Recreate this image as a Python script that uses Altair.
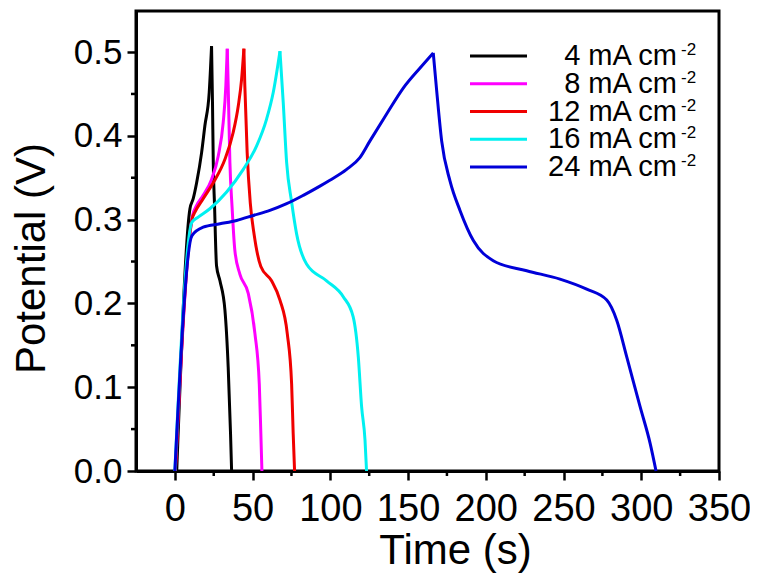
import altair as alt
import pandas as pd

FONT = "Liberation Sans"

series_names = ["4 mA", "8 mA", "12 mA", "16 mA", "24 mA"]
legend_labels = ["4 mA cm", "8 mA cm", "12 mA cm", "16 mA cm", "24 mA cm"]
legend_sup = ["-2", "-2", "-2", "-2", "-2"]
colors = ["#000000", "#FF00FF", "#F00000", "#00F0F0", "#0000D8"]

black_t = [1.2, 9.7, 11.8, 14.0, 17.2, 19.3, 22.1, 23.6, 24.2, 24.7, 25.5, 26.8, 29.0, 32.2, 34.3, 35.8, 36.5]
black_v = [0.0, 0.313, 0.325, 0.344, 0.380, 0.412, 0.452, 0.507, 0.44, 0.368, 0.318, 0.245, 0.227, 0.192, 0.124, 0.045, 0.0]

magenta_t = [0.3, 11.4, 14.0, 18.2, 23.6, 27.9, 31.1, 32.8, 33.7, 34.3, 35.4, 36.8, 38.6, 41.8, 47.2, 51.5, 54.3, 55.3, 56.0]
magenta_v = [0.0, 0.305, 0.317, 0.329, 0.348, 0.376, 0.416, 0.46, 0.504, 0.46, 0.368, 0.315, 0.263, 0.235, 0.212, 0.164, 0.104, 0.045, 0.0]

red_t = [0.3, 11.4, 12.9, 18.2, 24.7, 32.2, 37.5, 40.8, 42.9, 44.4, 45.0, 46.5, 48.5, 51.0, 55.3, 62.2, 67.6, 72.3, 75.1, 76.1, 77.0]
red_v = [0.0, 0.303, 0.309, 0.325, 0.344, 0.372, 0.404, 0.436, 0.467, 0.504, 0.46, 0.38, 0.32, 0.282, 0.244, 0.227, 0.204, 0.164, 0.104, 0.045, 0.0]

cyan_t = [0.0, 11.0, 15.0, 22.5, 33.3, 44.0, 52.6, 59.0, 63.3, 67.6, 69.7, 71.9, 75.1, 78.3, 84.7, 97.6, 108.3, 114.7, 118.0, 120.1, 122.3, 123.3]
cyan_v = [0.0, 0.297, 0.303, 0.313, 0.333, 0.36, 0.388, 0.42, 0.452, 0.501, 0.44, 0.368, 0.321, 0.283, 0.247, 0.227, 0.208, 0.184, 0.136, 0.077, 0.037, 0.0]

blue_t = [0.0, 11.0, 18.2, 29.0, 39.7, 50.4, 61.1, 71.9, 82.6, 93.3, 99.7, 110.5, 119.0, 125.5, 136.2, 146.9, 157.7, 166.2,
          168.4, 171.6, 177.0, 183.4, 192.0, 204.8, 226.3, 247.7, 264.9, 277.8, 284.2, 290.7, 299.2, 305.7, 309.5]
blue_v = [0.0, 0.281, 0.291, 0.295, 0.299, 0.305, 0.311, 0.319, 0.329, 0.340, 0.347, 0.360, 0.374, 0.394, 0.426, 0.457, 0.481, 0.499,
          0.454, 0.394, 0.346, 0.311, 0.275, 0.251, 0.239, 0.229, 0.217, 0.204, 0.180, 0.136, 0.077, 0.033, 0.0]

x_major = [0, 50, 100, 150, 200, 250, 300, 350]
x_minor = [25, 75, 125, 175, 225, 275, 325]
y_major = [0.0, 0.1, 0.2, 0.3, 0.4, 0.5]
y_minor = [0.05, 0.15, 0.25, 0.35, 0.45]

W, H = 583, 460

# split each curve into its charge (rising) and discharge (falling) branch at the peak
rows = []
for name, ts, vs in zip(series_names,
                        [black_t, magenta_t, red_t, cyan_t, blue_t],
                        [black_v, magenta_v, red_v, cyan_v, blue_v]):
    peak = vs.index(max(vs))
    for i, (t, v) in enumerate(zip(ts, vs)):
        if i <= peak:
            rows.append({"series": name, "seg": name + " charge", "t": t, "v": v, "order": i})
        if i >= peak:
            rows.append({"series": name, "seg": name + " discharge", "t": t, "v": v, "order": i})
df = pd.DataFrame(rows)

color_scale = alt.Scale(domain=series_names, range=colors)
x_scale = alt.Scale(domain=[-25, 350], nice=False, zero=False)
y_scale = alt.Scale(domain=[0, 0.549], nice=False, zero=False)

x_axis = alt.Axis(
    values=x_major, title="Time (s)", format="d",
    titleX=319, titleY=92, titleBaseline="alphabetic", titleAlign="center",
    labelFontSize=38, labelPadding=10, tickSize=9,
    labelFlush=False, labelOverlap=False)

lines = alt.Chart(df).mark_line(strokeWidth=3, interpolate="monotone").encode(
    x=alt.X("t:Q", scale=x_scale, axis=x_axis),
    y=alt.Y("v:Q", scale=y_scale, axis=alt.Axis(
        values=y_major, title="Potential (V)", format=".1f",
        titleX=-92, titleY=247, titleAngle=270, titleBaseline="alphabetic",
        titleAlign="center",
        labelFontSize=35, labelPadding=5, tickSize=9,
        labelFlush=False, labelOverlap=False)),
    color=alt.Color("series:N", scale=color_scale, legend=None),
    detail="seg:N",
    order="order:Q",
)

xminor = alt.Chart(pd.DataFrame({"t": x_minor})).mark_rule(color="black", strokeWidth=2.5).encode(
    x=alt.X("t:Q", scale=x_scale, axis=x_axis),
    y=alt.value(H), y2=alt.value(H + 5),
)
yminor = alt.Chart(pd.DataFrame({"v": y_minor})).mark_rule(color="black", strokeWidth=2.5).encode(
    y=alt.Y("v:Q", scale=y_scale, axis=None),
    x=alt.value(-5), x2=alt.value(0),
)

leg_df = pd.DataFrame({"series": series_names, "label": legend_labels, "sup": legend_sup})
leg_y = alt.Y("series:N", sort=series_names,
              scale=alt.Scale(type="point", range=[45, 156], padding=0), axis=None)

leg_lines = alt.Chart(leg_df).mark_rule(strokeWidth=3).encode(
    x=alt.value(334), x2=alt.value(391), y=leg_y,
    color=alt.Color("series:N", scale=color_scale, legend=None),
)
leg_text = alt.Chart(leg_df).mark_text(align="right", baseline="middle", fontSize=29,
                                       font=FONT, color="black").encode(
    x=alt.value(541), y=leg_y, text="label:N")
leg_sup = alt.Chart(leg_df).mark_text(align="left", baseline="middle", fontSize=17,
                                      font=FONT, color="black", dy=-6).encode(
    x=alt.value(545), y=leg_y, text="sup:N")

chart = alt.layer(lines, xminor, yminor, leg_lines, leg_text, leg_sup).resolve_scale(
    y="independent"
).properties(
    width=W, height=H,
    autosize=alt.AutoSizeParams(type="none"),
    padding={"left": 128, "top": 3, "right": 31, "bottom": 102},
).configure(font=FONT).configure_view(
    stroke="black", strokeWidth=3
).configure_axis(
    grid=False, domainColor="black", domainWidth=3, tickColor="black", tickWidth=2.5,
    labelColor="black", titleColor="black", labelFont=FONT, titleFont=FONT,
    titleFontSize=42, titleFontWeight="normal",
)

chart.save("out.html", embed_options={"renderer": "svg", "actions": False})
